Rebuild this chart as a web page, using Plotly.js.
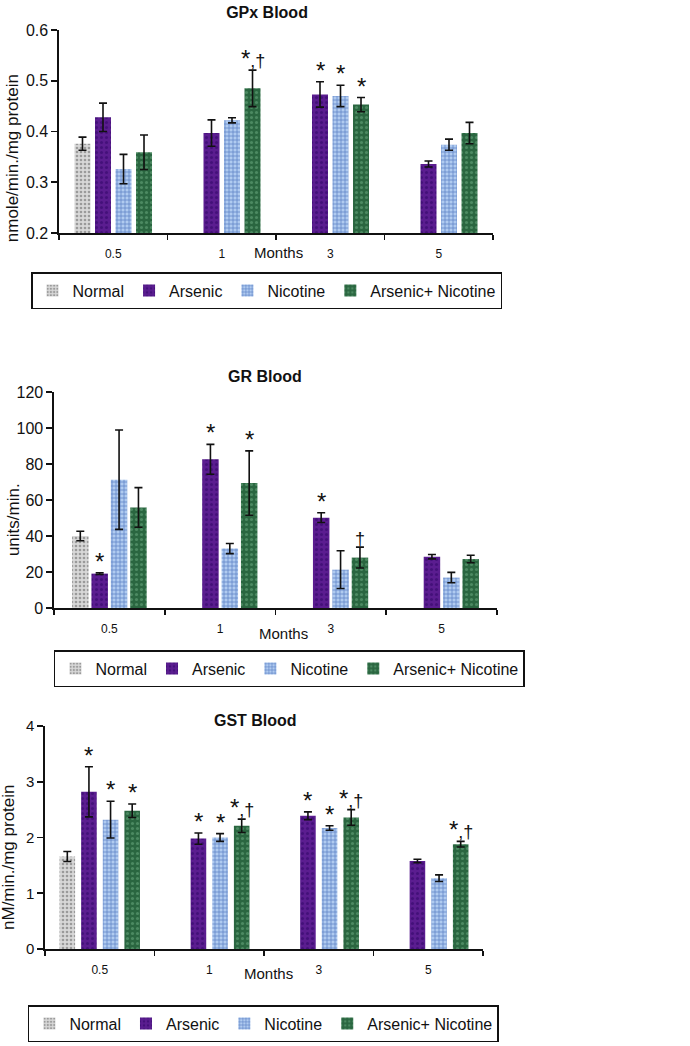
<!DOCTYPE html>
<html>
<head>
<meta charset="utf-8">
<script src="https://cdn.plot.ly/plotly-3.0.1.min.js"></script>
<style>
html,body{margin:0;padding:0;background:#fff;width:690px;height:1046px;overflow:hidden;}
.p{position:absolute;left:0;width:690px;}
</style>
</head>
<body>
<div id="p1" class="p" style="top:0px;height:340px;"></div>
<div id="p2" class="p" style="top:340px;height:350px;"></div>
<div id="p3" class="p" style="top:690px;height:356px;"></div>
<script>
// ---------- data ----------
const months = ['0.5', '1', '3', '5'];
const seriesNames = ['Normal', 'Arsenic', 'Nicotine', 'Arsenic+ Nicotine'];

// GPx Blood (nmole/min./mg protein)
const gpxNormal   = [0.376, null, null, null];
const gpxArsenic  = [0.428, 0.397, 0.473, 0.336];
const gpxNicotine = [0.326, 0.422, 0.470, 0.374];
const gpxAsNic    = [0.359, 0.485, 0.453, 0.397];
const gpxNormalErr   = [0.013, 0, 0, 0];
const gpxArsenicErr  = [0.028, 0.026, 0.025, 0.006];
const gpxNicotineErr = [0.029, 0.005, 0.021, 0.011];
const gpxAsNicErr    = [0.034, 0.036, 0.014, 0.021];
const gpxMarks = [['', '', '', ''], ['', '', '*', ''], ['', '', '*', ''], ['', '*,†', '*', '']];

// GR Blood (units/min.)
const grNormal   = [40.0, null, null, null];
const grArsenic  = [19.1, 82.6, 50.2, 28.5];
const grNicotine = [71.3, 33.0, 21.3, 16.9];
const grAsNic    = [55.9, 69.4, 28.0, 27.2];
const grNormalErr   = [2.6, 0, 0, 0];
const grArsenicErr  = [0.5, 8.3, 2.7, 1.2];
const grNicotineErr = [27.6, 2.8, 10.5, 2.9];
const grAsNicErr    = [11.0, 17.9, 5.8, 2.1];
const grMarks = [['', '', '', ''], ['*', '*', '*', ''], ['', '', '', ''], ['', '*', '†', '']];

// GST Blood (nM/min./mg protein)
const gstNormal   = [1.66, null, null, null];
const gstArsenic  = [2.82, 1.98, 2.39, 1.58];
const gstNicotine = [2.32, 2.00, 2.17, 1.27];
const gstAsNic    = [2.48, 2.21, 2.36, 1.88];
const gstNormalErr   = [0.09, 0, 0, 0];
const gstArsenicErr  = [0.45, 0.10, 0.07, 0.03];
const gstNicotineErr = [0.33, 0.07, 0.04, 0.06];
const gstAsNicErr    = [0.12, 0.12, 0.14, 0.05];
const gstMarks = [['', '', '', ''], ['*', '*', '*', ''], ['*', '*', '*', ''], ['*', '*,†', '*,†', '*,†']];

// ---------- styles ----------
const FONT = 'Liberation Sans, Arial, sans-serif';
const styles = [
  {color: '#cfcfcf', pattern: {shape: '.', fgcolor: '#9a9a9a', bgcolor: '#d8d8d8', size: 4, solidity: 0.35}},
  {color: '#581a8c', pattern: {shape: '.', fgcolor: '#44107a', bgcolor: '#5b1d90', size: 5, solidity: 0.3}},
  {color: '#a3c0ec', pattern: {shape: '+', fgcolor: '#5f83c6', bgcolor: '#b0cbf0', size: 4, solidity: 0.35}},
  {color: '#2e6c44', pattern: {shape: '.', fgcolor: '#4c8a62', bgcolor: '#2a6640', size: 5, solidity: 0.3}}
];

function markText(m) {
  return m.replace('*', '<span style="font-size:24px">*</span>');
}

function makePanel(id, cfg) {
  const traces = cfg.values.map((vals, i) => ({
    type: 'bar',
    name: seriesNames[i],
    x: months,
    y: vals,
    marker: {color: styles[i].color, pattern: styles[i].pattern, line: {width: 0}},
    error_y: {type: 'data', array: cfg.errors[i], visible: true, color: '#111', thickness: 1.6, width: 4},
    hoverinfo: 'x+y+name'
  }));
  const slot = (1 - cfg.bargap) / 4;
  const anns = [];
  cfg.marks.forEach((row, i) => {
    row.forEach((m, j) => {
      if (!m) return;
      anns.push({
        x: j + (i - 1.5) * slot, y: cfg.values[i][j] + cfg.errors[i][j],
        xref: 'x', yref: 'y', text: markText(m), showarrow: false,
        xanchor: 'center', yanchor: 'bottom', yshift: -4,
        font: {family: FONT, size: 18, color: '#111'}
      });
    });
  });
  anns.push({x: cfg.monthsPos[0], y: cfg.monthsPos[1], xref: 'paper', yref: 'paper', text: 'Months',
    showarrow: false, xanchor: 'center', yanchor: 'middle', font: {family: FONT, size: 15, color: '#111'}});
  anns.push({x: cfg.ytitlePos[0], y: cfg.ytitlePos[1], xref: 'paper', yref: 'paper', text: cfg.ytitle,
    showarrow: false, textangle: -90, xanchor: 'center', yanchor: 'middle', font: {family: FONT, size: 17, color: '#111'}});
  const layout = {
    width: 690, height: cfg.height,
    margin: Object.assign({autoexpand: false}, cfg.margin),
    paper_bgcolor: '#fff', plot_bgcolor: '#fff',
    font: {family: FONT, color: '#111'},
    title: {text: '<b>' + cfg.title + '</b>', x: cfg.titleXY[0], y: cfg.titleXY[1], xref: 'container', yref: 'container',
      xanchor: 'center', yanchor: 'middle', font: {family: FONT, size: 16, color: '#111'}},
    barmode: 'group', bargap: cfg.bargap, bargroupgap: cfg.bargroupgap,
    showlegend: true,
    legend: {orientation: 'h', x: cfg.legendXY[0], y: cfg.legendXY[1], xref: 'paper', yref: 'paper',
      xanchor: 'left', yanchor: 'top',
      bordercolor: '#111', borderwidth: 1.5, font: {family: FONT, size: 16, color: '#111'},
      traceorder: 'normal', itemwidth: 30},
    xaxis: {type: 'category', showline: true, linecolor: '#111', linewidth: 1.6, ticks: 'outside', tickson: 'boundaries',
      ticklen: 5, tickwidth: 1.6, tickcolor: '#111', showgrid: false, zeroline: false, fixedrange: true,
      tickfont: {family: FONT, size: 12, color: '#111'}, ticklabelstandoff: cfg.xstand},
    yaxis: {range: cfg.yrange, dtick: cfg.dtick, tickformat: cfg.tickformat, showline: true, linecolor: '#111', linewidth: 1.6,
      ticks: 'outside', ticklen: 6, tickwidth: 1.6, tickcolor: '#111', showgrid: false, zeroline: false,
      tickfont: {family: FONT, size: cfg.ytickSize, color: '#111'}, fixedrange: true},
    annotations: anns
  };
  Plotly.newPlot(id, traces, layout, {displayModeBar: false, staticPlot: true});
}

makePanel('p1', {
  height: 340, margin: {l: 59, r: 197, t: 30, b: 107},
  title: 'GPx Blood', titleXY: [0.387, 1 - 12 / 340],
  values: [gpxNormal, gpxArsenic, gpxNicotine, gpxAsNic],
  errors: [gpxNormalErr, gpxArsenicErr, gpxNicotineErr, gpxAsNicErr],
  marks: gpxMarks, bargap: 0.244, bargroupgap: 0.22,
  yrange: [0.2, 0.6], dtick: 0.1, tickformat: '.1f', ytickSize: 16,
  ytitle: 'nmole/min./mg protein', ytitlePos: [-0.108, 0.369],
  monthsPos: [0.505, -0.0985], legendXY: [-0.0645, (233 - 272) / 203], xstand: 9
});

makePanel('p2', {
  height: 350, margin: {l: 54, r: 193, t: 52, b: 82},
  title: 'GR Blood', titleXY: [0.384, 1 - 36 / 350],
  values: [grNormal, grArsenic, grNicotine, grAsNic],
  errors: [grNormalErr, grArsenicErr, grNicotineErr, grAsNicErr],
  marks: grMarks, bargap: 0.3, bargroupgap: 0.15,
  yrange: [0, 120], dtick: 20, tickformat: 'd', ytickSize: 16,
  ytitle: 'units/min.', ytitlePos: [-0.0925, 0.407],
  monthsPos: [0.517, -0.116], legendXY: [-0.0001, (268 - 310) / 216], xstand: 9
});

makePanel('p3', {
  height: 356, margin: {l: 45, r: 207, t: 36, b: 97},
  title: 'GST Blood', titleXY: [0.37, 1 - 30 / 356],
  values: [gstNormal, gstArsenic, gstNicotine, gstAsNic],
  errors: [gstNormalErr, gstArsenicErr, gstNicotineErr, gstAsNicErr],
  marks: gstMarks, bargap: 0.21, bargroupgap: 0.28,
  yrange: [0, 4], dtick: 1, tickformat: 'd', ytickSize: 15,
  ytitle: 'nM/min./mg protein', ytitlePos: [-0.082, 0.413],
  monthsPos: [0.511, -0.112], legendXY: [-0.039, (259 - 315) / 223], xstand: 9
});
</script>
</body>
</html>
